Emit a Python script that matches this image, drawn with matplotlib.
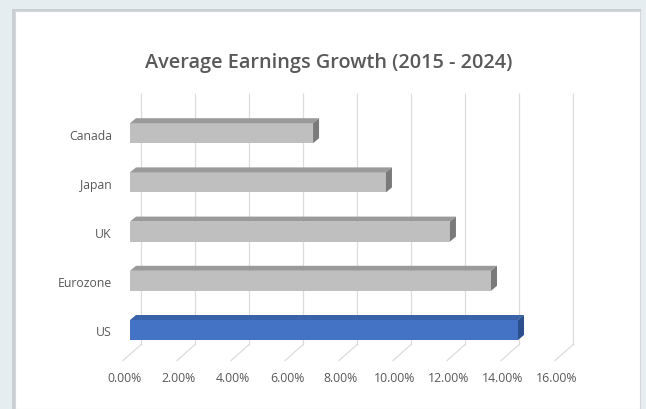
import matplotlib
matplotlib.use("Agg")
import matplotlib.pyplot as plt
from matplotlib.patches import Polygon, Rectangle

# ---- data -------------------------------------------------------------
categories = ["US", "Eurozone", "UK", "Japan", "Canada"]
growth_pct = [14.37, 13.37, 11.85, 9.48, 6.78]
front_colors = ["#4472c4", "#bfbfbf", "#bfbfbf", "#bfbfbf", "#bfbfbf"]
top_colors = ["#3a62a8", "#9a9a9a", "#9a9a9a", "#9a9a9a", "#9a9a9a"]
side_colors = ["#2b4f8c", "#7a7a7a", "#7a7a7a", "#7a7a7a", "#7a7a7a"]
tick_values = [0, 2, 4, 6, 8, 10, 12, 14, 16]
tick_labels = [f"{v:.2f}%" for v in tick_values]
title = "Average Earnings Growth (2015 - 2024)"

# ---- figure / pixel-locked axes --------------------------------------
W, H, DPI = 646, 409, 100
fig = plt.figure(figsize=(W / DPI, H / DPI), dpi=DPI)
fig.patch.set_facecolor("#e6edf1")

# chart card with a soft shadow
fig.patches.append(Rectangle((12 / W, 0), 629 / W, 400 / H, transform=fig.transFigure,
                             facecolor="#c9cfd3", edgecolor="none", zorder=-2))
fig.patches.append(Rectangle((15 / W, 0), 625 / W, 398 / H, transform=fig.transFigure,
                             facecolor="white", edgecolor="#d4d8db", lw=0.8, zorder=-1))

ax = fig.add_axes([0, 0, 1, 1])
ax.set_zorder(1)
ax.set_facecolor("none")
ax.axis("off")

PX_PER_PCT = 27.0
X0_PX = 130.0
PX_PER_ROW = 49.2
ROW0_PX = 409 - 330.0
ax.set_xlim(-X0_PX / PX_PER_PCT, (W - X0_PX) / PX_PER_PCT)
ax.set_ylim(-ROW0_PX / PX_PER_ROW, (H - ROW0_PX) / PX_PER_ROW)

def px_x(p):
    return p / PX_PER_PCT

def px_y(p):
    return p / PX_PER_ROW

bar_h = px_y(20)
depth_dx, depth_dy = px_x(6), px_y(5)

# ---- walls and floor grid ---------------------------------------------
back_dx = px_x(11)
front_dx = px_x(-7)
floor_back_y = -0.5 + px_y(10)
floor_front_y = floor_back_y - px_y(16)
wall_top_y = len(categories) - 0.5 + px_y(16)
grid_c = "#dcdcdc"
for v in tick_values:
    ax.plot([v + back_dx, v + back_dx], [floor_back_y, wall_top_y],
            color=grid_c, lw=0.9, zorder=1, solid_capstyle="butt")
    ax.plot([v + back_dx, v + front_dx], [floor_back_y, floor_front_y],
            color=grid_c, lw=0.9, zorder=1)

# ---- 3D-style bars ------------------------------------------------------
ypos = list(range(len(categories)))
ax.barh(ypos, growth_pct, height=bar_h, color=front_colors, edgecolor="none", zorder=3)
for i, (v, tc, sc) in enumerate(zip(growth_pct, top_colors, side_colors)):
    top = i + bar_h / 2
    bot = i - bar_h / 2
    ax.add_patch(Polygon([(0, top), (v, top), (v + depth_dx, top + depth_dy),
                          (depth_dx, top + depth_dy)], closed=True,
                         facecolor=tc, edgecolor="none", zorder=3))
    ax.add_patch(Polygon([(v, bot), (v, top), (v + depth_dx, top + depth_dy),
                          (v + depth_dx, bot + depth_dy)], closed=True,
                         facecolor=sc, edgecolor="none", zorder=3))

# ---- labels -------------------------------------------------------------
txt_c = "#595959"
font = "Open Sans"
for i, name in enumerate(categories):
    ax.text(px_x(-18), i - px_y(3), name, ha="right", va="center",
            fontsize=8.8, color=txt_c, family=font)

label_y = -ROW0_PX / PX_PER_ROW + px_y(30)
for v, lab in zip(tick_values, tick_labels):
    ax.text(v + px_x(-5), label_y, lab, ha="center", va="center",
            fontsize=8.8, color=txt_c, family=font)

fig.text(329 / W, 1 - 63 / H, title, ha="center", va="center",
         fontsize=14.3, color=txt_c, family=font, fontweight="semibold")

fig.savefig("out.png", dpi=DPI, facecolor=fig.get_facecolor())
